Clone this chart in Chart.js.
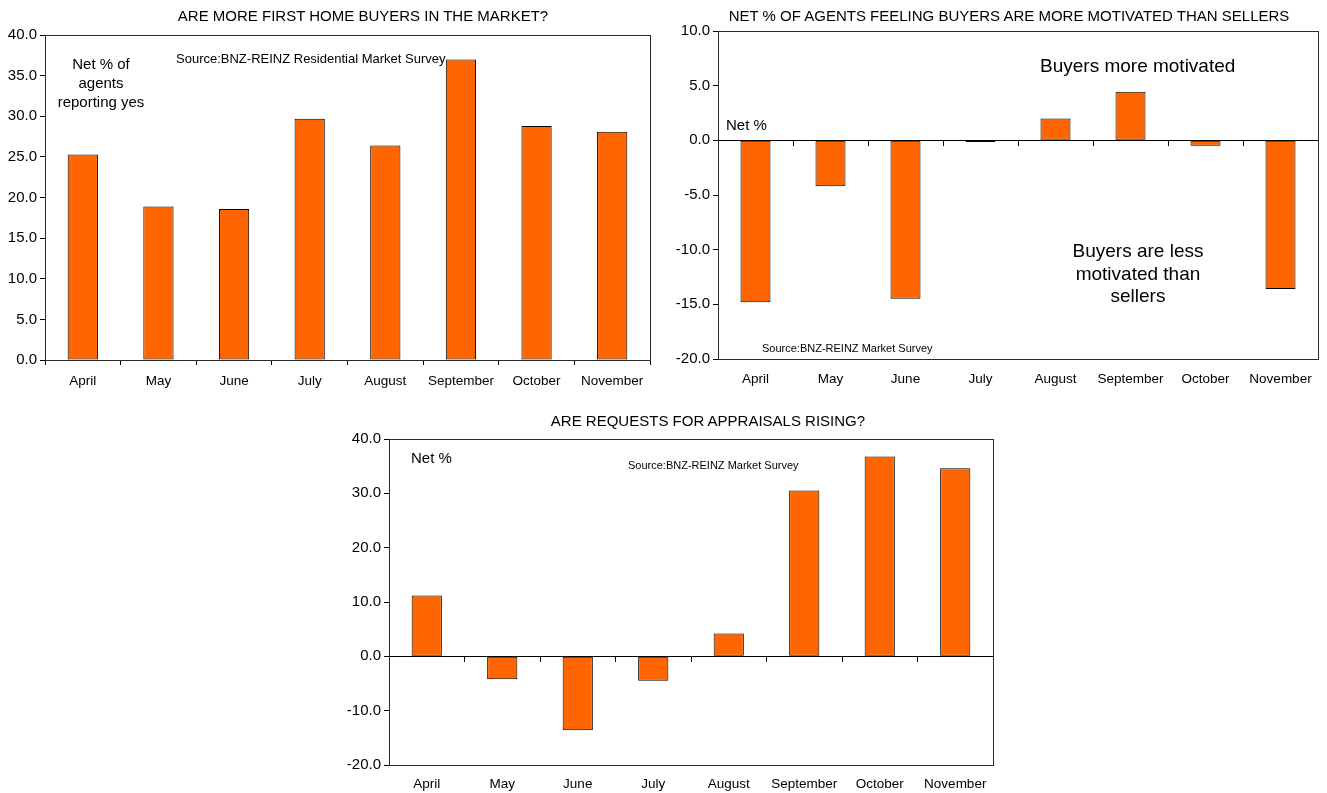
<!DOCTYPE html>
<html>
<head>
<meta charset="utf-8">
<script src="https://cdn.jsdelivr.net/npm/chart.js@4.4.1/dist/chart.umd.min.js"></script>
<style>
  body { margin: 0; background: #fff; font-family: "Liberation Sans", Arial, sans-serif; }
  .box { position: absolute; }
  .note { position: absolute; color: #000; white-space: nowrap; line-height: 1.25; }
  .title { position: absolute; width: 700px; text-align: center; font-size: 15px; line-height: 18px; white-space: nowrap; }
</style>
</head>
<body>
<div class="box" style="left:0;top:0;width:660px;height:395px"><canvas id="c1"></canvas></div>
<div class="box" style="left:660px;top:0;width:667px;height:395px"><canvas id="c2"></canvas></div>
<div class="box" style="left:330px;top:400px;width:670px;height:393px"><canvas id="c3"></canvas></div>

<div class="title" style="left:13px;top:7px">ARE MORE FIRST HOME BUYERS IN THE MARKET?</div>
<div class="title" style="left:659px;top:7px">NET % OF AGENTS FEELING BUYERS ARE MORE MOTIVATED THAN SELLERS</div>
<div class="title" style="left:358px;top:412px">ARE REQUESTS FOR APPRAISALS RISING?</div>

<div class="note" style="left:56px;top:54px;width:90px;text-align:center;font-size:15px;line-height:19px">Net % of<br>agents<br>reporting yes</div>
<div class="note" style="left:176px;top:51px;font-size:13px">Source:BNZ-REINZ Residential Market Survey</div>

<div class="note" style="left:1040px;top:54px;font-size:19px">Buyers more motivated</div>
<div class="note" style="left:726px;top:116px;font-size:15px">Net %</div>
<div class="note" style="left:1063px;top:240px;width:150px;text-align:center;font-size:19px;line-height:22.5px">Buyers are less<br>motivated than<br>sellers</div>
<div class="note" style="left:762px;top:342px;font-size:11px">Source:BNZ-REINZ Market Survey</div>

<div class="note" style="left:411px;top:449px;font-size:15px">Net %</div>
<div class="note" style="left:628px;top:459px;font-size:11px">Source:BNZ-REINZ Market Survey</div>

<script>
var months = ["April", "May", "June", "July", "August", "September", "October", "November"];
var firstHomeBuyers = [25.3, 18.9, 18.6, 29.7, 26.4, 37.0, 28.8, 28.1];
var buyersMotivated = [-14.8, -4.2, -14.5, -0.15, 2.0, 4.45, -0.5, -13.6];
var appraisals = [11.2, -4.2, -13.6, -4.5, 4.2, 30.5, 36.8, 34.6];

Chart.defaults.font.family = '"Liberation Sans", Arial, sans-serif';
Chart.defaults.color = '#000';

// frame round the plot area
var plotBox = {
    id: 'plotBox',
    afterDraw: function (chart) {
        var a = chart.chartArea, ctx = chart.ctx;
        ctx.save();
        ctx.strokeStyle = '#2a2a2a';
        ctx.lineWidth = 1;
        ctx.strokeRect(Math.round(a.left) + 0.5, Math.round(a.top) + 0.5,
            Math.round(a.right - a.left), Math.round(a.bottom - a.top));
        ctx.restore();
    }
};

function renderChart(id, data, yMin, yMax, step, opt) {
    var ctx = document.getElementById(id).getContext('2d');
    var scales = {
        x: {
            grid: { display: true, drawOnChartArea: false, drawTicks: true, tickLength: 5, color: '#000', offset: true },
            border: { display: true, color: '#000' },
            ticks: { font: { size: 13.5 }, padding: opt.labelPad, maxRotation: 0, autoSkip: false },
            afterFit: function (s) { s.height = opt.xHeight; }
        },
        y: {
            min: yMin, max: yMax,
            grid: { drawOnChartArea: false, drawTicks: true, tickLength: 5, color: '#000' },
            border: { color: '#000' },
            ticks: { stepSize: step, font: { size: 15 }, padding: 3,
                callback: function (v) { return Number(v).toFixed(1); } },
            afterFit: function (s) { s.width = opt.yWidth; }
        }
    };
    if (opt.zeroAxis) {
        // category ticks sit on the zero line, labels stay at the bottom
        scales.x.grid = { display: false, drawTicks: false };
        scales.x2 = {
            type: 'category',
            position: { y: 0 },
            grid: { drawOnChartArea: false, drawTicks: true, tickLength: 5, color: '#000', offset: true },
            border: { color: '#000' },
            ticks: { display: false }
        };
    }
    return new Chart(ctx, {
        type: 'bar',
        data: {
            labels: months,
            datasets: [{
                data: data,
                backgroundColor: '#FF6600',
                borderColor: '#000',
                borderWidth: 1,
                borderSkipped: false,
                barPercentage: 0.4,
                categoryPercentage: 1.0
            }]
        },
        options: {
            responsive: true,
            maintainAspectRatio: false,
            animation: false,
            layout: { padding: { left: 0, right: opt.padRight, top: opt.padTop, bottom: 0 } },
            plugins: {
                legend: { display: false },
                tooltip: { enabled: false }
            },
            scales: scales
        },
        plugins: [plotBox]
    });
}

renderChart('c1', firstHomeBuyers, 0, 40, 5,
    { yWidth: 45, padRight: 10, padTop: 35, xHeight: 35, labelPad: 8, zeroAxis: false });
renderChart('c2', buyersMotivated, -20, 10, 5,
    { yWidth: 58, padRight: 9, padTop: 31, xHeight: 36, labelPad: 12, zeroAxis: true });
renderChart('c3', appraisals, -20, 40, 10,
    { yWidth: 59, padRight: 7, padTop: 39, xHeight: 28, labelPad: 11, zeroAxis: true });
</script>
</body>
</html>
